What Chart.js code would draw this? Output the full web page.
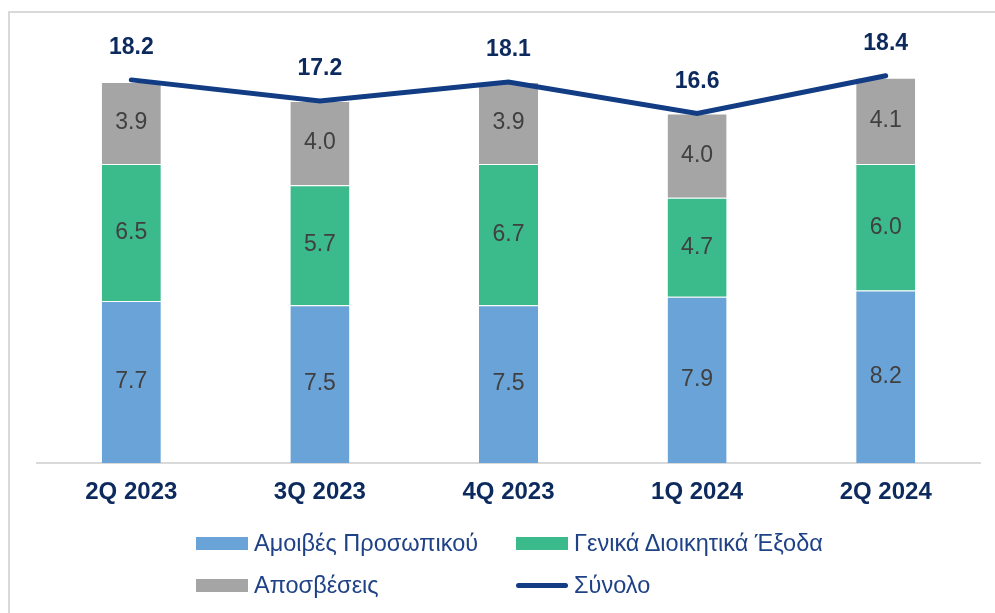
<!DOCTYPE html>
<html>
<head>
<meta charset="utf-8">
<script src="https://cdn.jsdelivr.net/npm/chart.js@4.4.1/dist/chart.umd.min.js"></script>
<style>
    html, body { margin: 0; padding: 0; background: #fff; overflow: hidden; }
    #wrap { position: relative; width: 995px; height: 613px; }
    #frame { position: absolute; left: 8px; top: 11px; width: 1000px; height: 620px; border: 2px solid #d9d9d9; box-sizing: border-box; }
    #chart { position: absolute; left: 0; top: 0; }
    #legend { position: absolute; left: 0; top: 0; font-family: "Liberation Sans", Arial, sans-serif; font-size: 23.5px; color: #1f4287; }
    .item { position: absolute; display: flex; align-items: center; height: 30px; white-space: nowrap; }
    .swatch { width: 52px; height: 13px; margin-right: 6px; }
    .swatch.line { height: 5px; border-radius: 3px; }
</style>
</head>
<body>
<div id="wrap">
    <div id="frame"></div>
    <canvas id="chart" width="995" height="613"></canvas>
    <div id="legend"></div>
</div>
<script>
// Data
var quarters = ['2Q 2023', '3Q 2023', '4Q 2023', '1Q 2024', '2Q 2024'];
var staffCosts = [7.7, 7.5, 7.5, 7.9, 8.2];
var adminCosts = [6.5, 5.7, 6.7, 4.7, 6.0];
var depreciation = [3.9, 4.0, 3.9, 4.0, 4.1];
var totals = [18.2, 17.2, 18.1, 16.6, 18.4];

var FONT = '"Liberation Sans", Arial, sans-serif';
var NAVY = '#0d2a5e';

// Value labels inside the bars and above the total line
var labelsPlugin = {
    id: 'valueLabels',
    afterDatasetsDraw: function(chart) {
        var ctx = chart.ctx;
        ctx.save();
        ctx.textAlign = 'center';
        ctx.textBaseline = 'middle';
        chart.data.datasets.forEach(function(ds, i) {
            var meta = chart.getDatasetMeta(i);
            meta.data.forEach(function(el, j) {
                var v = ds.data[j];
                if (ds.type === 'line') {
                    ctx.font = 'bold 23px ' + FONT;
                    ctx.fillStyle = NAVY;
                    ctx.fillText(v.toFixed(1), el.x, el.y - 32);
                } else {
                    ctx.font = '23px ' + FONT;
                    ctx.fillStyle = '#404040';
                    ctx.fillText(v.toFixed(1), el.x, (el.y + el.base) / 2);
                }
            });
        });
        ctx.restore();
    }
};

var barCommon = {
    type: 'bar',
    stack: 'costs',
    barPercentage: 0.313,
    categoryPercentage: 1,
    borderWidth: { top: 1 },
    borderColor: 'rgba(255,255,255,0.5)',
    borderSkipped: 'start'
};

var chart = new Chart(document.getElementById('chart'), {
    data: {
        labels: quarters,
        datasets: [
            Object.assign({ label: 'Αμοιβές Προσωπικού', data: staffCosts, backgroundColor: '#6aa3d7', order: 2 }, barCommon),
            Object.assign({ label: 'Γενικά Διοικητικά Έξοδα', data: adminCosts, backgroundColor: '#3bba8b', order: 2 }, barCommon),
            Object.assign({ label: 'Αποσβέσεις', data: depreciation, backgroundColor: '#a5a5a5', order: 2 }, barCommon),
            {
                type: 'line',
                label: 'Σύνολο',
                data: totals,
                stack: 'total',
                borderColor: '#123c84',
                borderWidth: 5,
                borderCapStyle: 'round',
                pointRadius: 0,
                tension: 0,
                order: 1
            }
        ]
    },
    options: {
        responsive: false,
        animation: false,
        layout: { padding: { left: 37, right: 15, top: 42, bottom: 0 } },
        plugins: {
            legend: { display: false },
            tooltip: { enabled: false }
        },
        scales: {
            x: {
                stacked: true,
                grid: { display: false, drawTicks: false },
                border: { display: true, color: '#d9d9d9', width: 2 },
                ticks: {
                    padding: 15,
                    color: NAVY,
                    font: { family: FONT, size: 24, weight: 'bold' }
                },
                afterFit: function(scale) { scale.height = 150; }
            },
            y: {
                stacked: true,
                display: false,
                min: 0,
                max: 20
            }
        }
    },
    plugins: [labelsPlugin]
});

// Legend laid out in two columns like the original
var legendEl = document.getElementById('legend');
var slots = [
    { left: 196, top: 528 },
    { left: 516, top: 528 },
    { left: 196, top: 570 },
    { left: 516, top: 570 }
];
chart.data.datasets.forEach(function(ds, i) {
    var item = document.createElement('div');
    item.className = 'item';
    item.style.left = slots[i].left + 'px';
    item.style.top = slots[i].top + 'px';
    var sw = document.createElement('span');
    sw.className = 'swatch' + (ds.type === 'line' ? ' line' : '');
    sw.style.background = ds.type === 'line' ? ds.borderColor : ds.backgroundColor;
    var txt = document.createElement('span');
    txt.textContent = ds.label;
    item.appendChild(sw);
    item.appendChild(txt);
    legendEl.appendChild(item);
});
</script>
</body>
</html>
